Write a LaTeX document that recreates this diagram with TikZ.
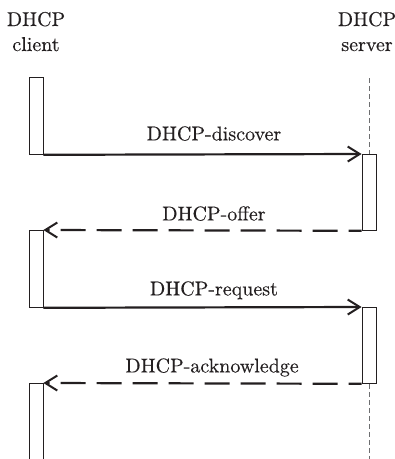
\documentclass[tikz,border=0pt]{standalone}
\usepackage{fontspec}
\setmainfont{lmroman10-regular}[Extension=.otf, FakeBold=0.3]
\usetikzlibrary{arrows.meta}
\definecolor{ink}{HTML}{231F20}
\definecolor{lifegray}{HTML}{6D6E70}
\begin{document}
\begin{tikzpicture}[x=1pt,y=-1pt,
  every node/.style={text=ink},
  lbl/.style={font=\fontsize{20}{25}\selectfont, inner sep=0pt, align=center},
  actbox/.style={draw=ink, line width=0.8pt, fill=white, rectangle, inner sep=0pt,
                 minimum width=14pt, anchor=north},
  msg/.style={draw=ink, line width=2.2pt, -{Straight Barb[length=12pt,width=15pt,line width=2pt]}},
  reply/.style={msg, dash pattern=on 25pt off 11pt, dash phase=12pt},
  lifeline/.style={draw=lifegray, line width=1pt, dash pattern=on 5pt off 3pt}
]
\useasboundingbox (0,0) rectangle (395,459);
\clip (0,0) rectangle (395,459);

% headers
\node[lbl, anchor=base] (chead1) at (36,26) {DHCP};
\node[lbl, anchor=base] (chead2) at (36,51) {client};
\node[lbl, anchor=base] (shead1) at (367,26) {DHCP};
\node[lbl, anchor=base] (shead2) at (367,51) {server};

% server lifeline pieces
\coordinate (stop) at (369,78);
\coordinate (sbottom) at (369,462);

% activation boxes
\node[actbox, minimum height=77pt] (cb1) at (36,77) {};
\node[actbox, minimum height=76pt] (sb1) at (369,154) {};
\node[actbox, minimum height=77pt] (cb2) at (36,230) {};
\node[actbox, minimum height=76pt] (sb2) at (369,307) {};
\node[actbox, minimum height=90pt] (cb3) at (36,383) {};

\draw[lifeline] (stop) -- (sb1.north);
\draw[lifeline] (sb2.south) -- (sbottom);

% messages
\draw[msg] (cb1.south east) -- (sb1.north west)
  node[lbl, pos=0.536, anchor=base, yshift=14pt] {DHCP-discover};
\draw[reply] (sb1.south west) -- (cb2.north east)
  node[lbl, pos=0.464, anchor=base, yshift=10pt] {DHCP-offer};
\draw[msg] (cb2.south east) -- (sb2.north west)
  node[lbl, pos=0.536, anchor=base, yshift=12pt] {DHCP-request};
\draw[reply] (sb2.south west) -- (cb3.north east)
  node[lbl, pos=0.47, anchor=base, yshift=11pt] {DHCP-acknowledge};
\end{tikzpicture}
\end{document}
